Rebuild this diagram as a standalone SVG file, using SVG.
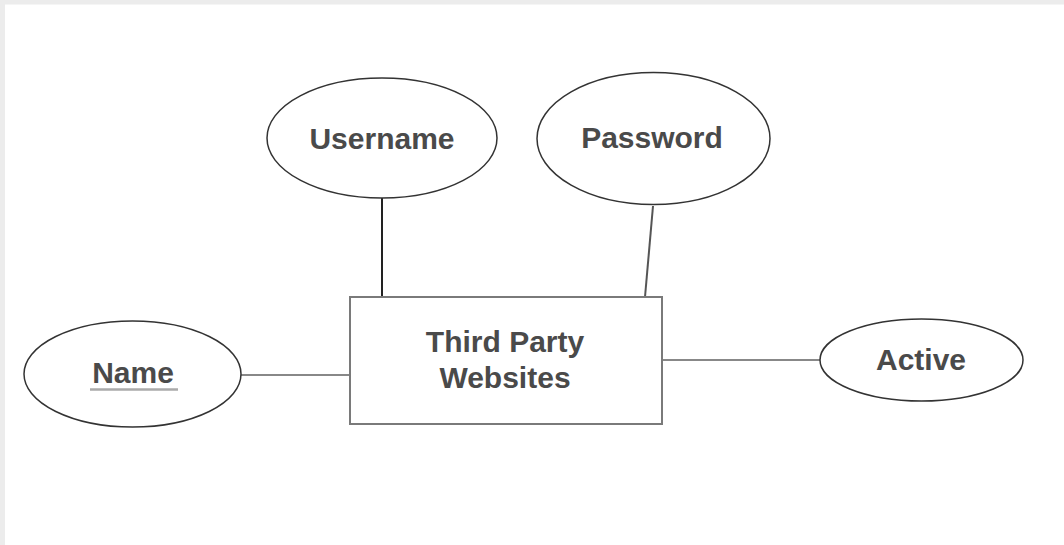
<svg xmlns="http://www.w3.org/2000/svg" width="1064" height="545" viewBox="0 0 1064 545">
<style>
.attr{fill:#fff;stroke:#333;stroke-width:1.5}
.ent{fill:#fff;stroke:#7a7a7a;stroke-width:2}
.lbl{font-family:"Liberation Sans",Arial,sans-serif;font-weight:bold;font-size:30px;fill:#4a4a4a;text-anchor:middle}
.con{stroke:#888;stroke-width:2;fill:none}
</style>
<rect x="0" y="0" width="1064" height="545" fill="#fff"/>
<rect x="0" y="0" width="1064" height="4.5" fill="#ececec"/>
<rect x="0" y="0" width="5" height="545" fill="#ececec"/>
<g id="connectors">
<line class="con" x1="382" y1="198" x2="382" y2="297" style="stroke:#222"/>
<line class="con" x1="653" y1="206" x2="645" y2="297" style="stroke:#555"/>
<line class="con" x1="241" y1="375" x2="350" y2="375"/>
<line class="con" x1="662" y1="360" x2="820" y2="360"/>
</g>
<g id="entity-third-party-websites">
<rect class="ent" x="350" y="297" width="312" height="127"/>
<text class="lbl" x="505" y="352">Third Party</text>
<text class="lbl" x="505" y="388">Websites</text>
</g>
<g id="attr-username">
<ellipse class="attr" cx="382" cy="138" rx="115" ry="60"/>
<text class="lbl" x="382" y="149">Username</text>
</g>
<g id="attr-password">
<ellipse class="attr" cx="653.5" cy="138.5" rx="116.5" ry="66"/>
<text class="lbl" x="652" y="148">Password</text>
</g>
<g id="attr-name">
<ellipse class="attr" cx="132.5" cy="374" rx="108.5" ry="53"/>
<text class="lbl" x="133" y="383">Name</text>
<line x1="90" y1="389.5" x2="178" y2="389.5" stroke="#aaa" stroke-width="2.5"/>
</g>
<g id="attr-active">
<ellipse class="attr" cx="921.5" cy="360" rx="101.5" ry="41"/>
<text class="lbl" x="921" y="370">Active</text>
</g>
</svg>
